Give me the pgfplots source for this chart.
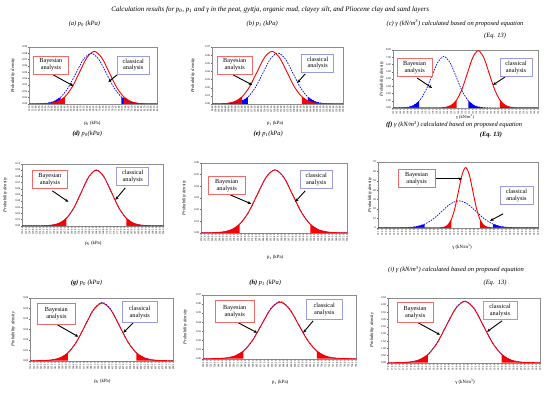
\documentclass[border=0pt]{standalone}
\usepackage{pgfplots}
\pgfplotsset{compat=1.18}
\usepackage{pgfplotstable}
\usepackage{fontspec}
\setmainfont{Liberation Serif}
\usetikzlibrary{arrows.meta}

\pgfplotstableread{
x y
0 0
1.9 0.00003
4.2 0.00018
6.5 0.00092
8.8 0.00365
11.1 0.01123
13.4 0.02695
15.7 0.05034
18.0 0.07325
20.3 0.08300
22.6 0.07325
24.9 0.05034
27.2 0.02695
29.5 0.01123
31.8 0.00365
34.1 0.00092
36.4 0.00018
38.7 0.00003
40 0
}\aR
\pgfplotstableread{
x y
0 0
0.3 0.00003
2.68 0.00018
5.05 0.00089
7.43 0.00352
9.8 0.01083
12.18 0.02597
14.55 0.04852
16.93 0.07060
19.3 0.08000
21.68 0.07060
24.05 0.04852
26.43 0.02597
28.8 0.01083
31.18 0.00352
33.55 0.00089
35.93 0.00018
38.3 0.00003
40 0
}\aB
\pgfplotstableread{
x y
0 0.00002
2.24 0.00014
4.52 0.00072
6.81 0.00284
9.1 0.00874
11.39 0.02097
13.68 0.03918
15.96 0.05701
18.25 0.06460
20.54 0.05701
22.83 0.03918
25.11 0.02097
27.4 0.00874
29.69 0.00284
31.98 0.00072
34.26 0.00014
36.55 0.00002
40 0
}\bR
\pgfplotstableread{
x y
0 0
1.75 0.00002
4.04 0.00014
6.33 0.00070
8.61 0.00275
10.9 0.00847
13.19 0.02032
15.48 0.03797
17.76 0.05525
20.05 0.06260
22.34 0.05525
24.63 0.03797
26.91 0.02032
29.2 0.00847
31.49 0.00275
33.78 0.00070
36.06 0.00014
38.35 0.00002
40 0
}\bB
\pgfplotstableread{
x y
0 0
0.4 0.0024
2.1 0.0155
3.8 0.0789
5.5 0.3120
7.2 0.9610
8.9 2.3050
10.6 4.3060
12.3 6.2660
14.0 7.1000
15.7 6.2660
17.4 4.3060
19.1 2.3050
20.8 0.9610
22.5 0.3120
24.2 0.0789
25.9 0.0155
27.6 0.0024
30 0
40 0
}\cB
\pgfplotstableread{
x y
0 0
10 0
11.5 0.0027
13 0.0173
14.5 0.0878
16 0.3471
17.5 1.0692
19 2.5647
20.5 4.7916
22 6.9718
23.5 7.9000
25 6.9718
26.5 4.7916
28 2.5647
29.5 1.0692
31 0.3471
32.5 0.0878
34 0.0173
35.5 0.0027
37 0
40 0
}\cR
\pgfplotstableread{
x y
0 0
4.0 0.00003
6.13 0.00020
8.25 0.00100
10.38 0.00395
12.5 0.01218
14.63 0.02922
16.75 0.05459
18.88 0.07943
21.0 0.09000
23.13 0.07943
25.25 0.05459
27.38 0.02922
29.5 0.01218
31.63 0.00395
33.75 0.00100
35.88 0.00020
38.0 0.00003
40 0
}\dR
\pgfplotstableread{
x y
0 0
0.8 0.00002
3.23 0.00012
5.65 0.00060
8.08 0.00237
10.5 0.00731
12.93 0.01753
15.35 0.03275
17.78 0.04766
20.2 0.05400
22.63 0.04766
25.05 0.03275
27.48 0.01753
29.9 0.00731
32.33 0.00237
34.75 0.00060
37.18 0.00012
39.6 0.00002
40 0
}\eR
\pgfplotstableread{
x y
0 0
13 0
14.7 0.022
15.6 0.140
16.5 0.711
17.4 2.812
18.3 8.662
19.2 20.778
20.1 38.818
21.0 56.480
21.9 64.000
22.8 56.480
23.7 38.818
24.6 20.778
25.5 8.662
26.4 2.812
27.3 0.711
28.2 0.140
29.1 0.022
31 0
40 0
}\fR
\pgfplotstableread{
x y
0 0
3.0 0.0098
5.15 0.0629
7.3 0.3189
9.45 1.2611
11.6 3.8843
13.75 9.3175
15.9 17.4074
18.05 25.3278
20.2 28.7000
22.35 25.3278
24.5 17.4074
26.65 9.3175
28.8 3.8843
30.95 1.2611
33.1 0.3189
35.25 0.0629
37.4 0.0098
40 0
}\fB
\pgfplotstableread{
x r b
0 0 0
0.9 0.00002 0.00002
3.3 0.00012 0.00012
5.7 0.00061 0.00062
8.1 0.00242 0.00244
10.5 0.00744 0.00753
12.9 0.01786 0.01805
15.3 0.03336 0.03372
17.7 0.04854 0.04907
20.1 0.05500 0.05560
22.5 0.04854 0.04907
24.9 0.03336 0.03372
27.3 0.01786 0.01805
29.7 0.00744 0.00753
32.1 0.00242 0.00244
34.5 0.00061 0.00062
36.9 0.00012 0.00012
39.3 0.00002 0.00002
40 0 0
}\gT
\pgfplotstableread{
x r b
0 0 0
0.9 0.00002 0.00002
3.3 0.00014 0.00014
5.7 0.00069 0.00070
8.1 0.00272 0.00276
10.5 0.00839 0.00849
12.9 0.02013 0.02036
15.3 0.03761 0.03803
17.7 0.05472 0.05533
20.1 0.06200 0.06270
22.5 0.05472 0.05533
24.9 0.03761 0.03803
27.3 0.02013 0.02036
29.7 0.00839 0.00849
32.1 0.00272 0.00276
34.5 0.00069 0.00070
36.9 0.00014 0.00014
39.3 0.00002 0.00002
40 0 0
}\hT
\pgfplotstableread{
x r b
0 0 0
0.8 0.0015 0.0015
3.23 0.0093 0.0094
5.65 0.0472 0.0476
8.08 0.1867 0.1881
10.5 0.5752 0.5793
12.93 1.3798 1.3895
15.35 2.5778 2.5959
17.78 3.7506 3.7771
20.2 4.2500 4.2800
22.63 3.7506 3.7771
25.05 2.5778 2.5959
27.48 1.3798 1.3895
29.9 0.5752 0.5793
32.33 0.1867 0.1881
34.75 0.0472 0.0476
37.18 0.0093 0.0094
39.6 0.0015 0.0015
40 0 0
}\iT

\definecolor{boxred}{HTML}{F06A6A}
\definecolor{boxblue}{HTML}{9A9AE0}

\pgfplotsset{
  panel/.style={
    scale only axis, anchor=south west,
    xmin=0, xmax=40, ymin=0,
    xtick={0,1,...,40},
    axis line style={black!45, line width=0.4pt},
    tick style={black!60, line width=0.3pt},
    major tick length=1.2bp,
    tick align=outside,
    xtick pos=bottom, ytick pos=left,
    scaled y ticks=false,
    /pgf/number format/assume math mode=true,
    xticklabel style={rotate=90, anchor=east, font=\fontsize{2.6}{3}\selectfont, inner sep=0.4bp},
    yticklabel style={font=\fontsize{2.8}{3}\selectfont, inner sep=0.8bp,
       /pgf/number format/.cd, fixed, fixed zerofill, precision=2},
  },
  rline/.style={red, line width=0.9bp, smooth},
  bline/.style={blue, line width=0.7bp, smooth, dash pattern=on 1.6bp off 1.1bp},
  rfill/.style={fill=red, draw=none, smooth},
  bfill/.style={fill=blue, draw=none, smooth},
}

\tikzset{
  annB/.style={draw=boxred, line width=0.8bp, fill=white, align=center,
     font=\fontsize{6.3}{6.8}\selectfont, inner sep=1bp, minimum width=35bp, minimum height=18bp},
  annC/.style={draw=boxblue, line width=0.8bp, fill=white, align=center,
     font=\fontsize{6.3}{6.8}\selectfont, inner sep=1bp, minimum width=32bp, minimum height=18bp},
  annArr/.style={-{Stealth[length=3.5bp,width=3bp]}, line width=0.9bp, black},
  capTxt/.style={font=\fontsize{6.5}{7}\selectfont\itshape},
  xLab/.style={font=\fontsize{4.8}{5}\selectfont},
  yLab/.style={rotate=90, font=\fontsize{4.6}{5}\selectfont\itshape},
}

\begin{document}
\begin{tikzpicture}
\begin{scope}[x=1bp,y=-1bp]
\useasboundingbox (0,0) rectangle (550,393);
\end{scope}

% (a)
\begin{axis}[panel, at={(29bp,-104bp)}, width=128bp, height=57bp, ymax=0.09, ytick distance=0.01,
  xticklabel={\pgfmathparse{52.1+0.85*\tick}\pgfmathprintnumber[fixed,fixed zerofill,precision=2]{\pgfmathresult}}]
\addplot[bfill, restrict x to domain=0:9.81] table{\aB} \closedcycle;
\addplot[bfill, restrict x to domain=28.79:40] table{\aB} \closedcycle;
\addplot[rfill, restrict x to domain=0:11.11] table{\aR} \closedcycle;
\addplot[rfill, restrict x to domain=29.49:40] table{\aR} \closedcycle;
\addplot[bline] table{\aB};
\addplot[rline] table{\aR};
\end{axis}

% (b)
\begin{axis}[panel, at={(212bp,-104bp)}, width=131bp, height=57bp, ymax=0.07, ytick distance=0.01,
  xticklabel={\pgfmathparse{98.4+1.6*\tick}\pgfmathprintnumber[fixed,fixed zerofill,precision=2]{\pgfmathresult}}]
\addplot[bfill, restrict x to domain=0:10.91] table{\bB} \closedcycle;
\addplot[bfill, restrict x to domain=29.19:40] table{\bB} \closedcycle;
\addplot[rfill, restrict x to domain=0:9.11] table{\bR} \closedcycle;
\addplot[rfill, restrict x to domain=27.39:40] table{\bR} \closedcycle;
\addplot[bline] table{\bB};
\addplot[rline] table{\bR};
\end{axis}

% (c)
\begin{axis}[panel, at={(393bp,-108bp)}, width=145bp, height=58bp, ymax=8, ytick distance=1,
  xticklabel style={font=\fontsize{2.3}{2.6}\selectfont},
  xticklabel={\pgfmathparse{10.2+0.15*\tick}\pgfmathprintnumber[fixed,fixed zerofill,precision=2]{\pgfmathresult}}]
\addplot[bfill, restrict x to domain=0:7.21] table{\cB} \closedcycle;
\addplot[bfill, restrict x to domain=20.79:40] table{\cB} \closedcycle;
\addplot[rfill, restrict x to domain=0:17.51] table{\cR} \closedcycle;
\addplot[rfill, restrict x to domain=29.49:40] table{\cR} \closedcycle;
\addplot[bline] table{\cB};
\addplot[rline] table{\cR};
\end{axis}

% (d)
\begin{axis}[panel, at={(22bp,-226bp)}, width=141bp, height=62bp, ymax=0.10, ytick distance=0.01,
  xticklabel={\pgfmathparse{120.5+2.1*\tick}\pgfmathprintnumber[fixed,fixed zerofill,precision=2]{\pgfmathresult}}]
\addplot[rfill, restrict x to domain=0:12.51] table{\dR} \closedcycle;
\addplot[rfill, restrict x to domain=29.49:40] table{\dR} \closedcycle;
\addplot[bline] table{\dR};
\addplot[rline] table{\dR};
\end{axis}

% (e)
\begin{axis}[panel, at={(201bp,-233bp)}, width=146bp, height=70bp, ymax=0.06, ytick distance=0.01,
  xticklabel={\pgfmathparse{230.4+3.2*\tick}\pgfmathprintnumber[fixed,fixed zerofill,precision=2]{\pgfmathresult}}]
\addplot[rfill, restrict x to domain=0:10.51] table{\eR} \closedcycle;
\addplot[rfill, restrict x to domain=29.89:40] table{\eR} \closedcycle;
\addplot[bline] table{\eR};
\addplot[rline] table{\eR};
\end{axis}

% (f)
\begin{axis}[panel, at={(378bp,-228bp)}, width=160bp, height=66bp, ymax=70, ytick distance=10,
  yticklabel style={/pgf/number format/precision=0},
  xticklabel={\pgfmathparse{14.1+0.12*\tick}\pgfmathprintnumber[fixed,fixed zerofill,precision=2]{\pgfmathresult}}]
\addplot[bfill, restrict x to domain=0:11.61] table{\fB} \closedcycle;
\addplot[bfill, restrict x to domain=28.79:40] table{\fB} \closedcycle;
\addplot[rfill, restrict x to domain=0:18.31] table{\fR} \closedcycle;
\addplot[rfill, restrict x to domain=25.49:40] table{\fR} \closedcycle;
\addplot[bline] table{\fB};
\addplot[rline] table{\fR};
\end{axis}

% (g)
\begin{axis}[panel, at={(30bp,-361bp)}, width=143bp, height=63bp, ymax=0.06, ytick distance=0.01,
  xticklabel={\pgfmathparse{310.2+4.5*\tick}\pgfmathprintnumber[fixed,fixed zerofill,precision=2]{\pgfmathresult}}]
\addplot[rfill, restrict x to domain=0:10.51] table[y=r]{\gT} \closedcycle;
\addplot[rfill, restrict x to domain=29.69:40] table[y=r]{\gT} \closedcycle;
\addplot[bline] table[y=b]{\gT};
\addplot[rline] table[y=r]{\gT};
\end{axis}

% (h)
\begin{axis}[panel, at={(203bp,-359bp)}, width=153bp, height=64bp, ymax=0.07, ytick distance=0.01,
  xticklabel={\pgfmathparse{520.3+6.1*\tick}\pgfmathprintnumber[fixed,fixed zerofill,precision=2]{\pgfmathresult}}]
\addplot[rfill, restrict x to domain=0:10.51] table[y=r]{\hT} \closedcycle;
\addplot[rfill, restrict x to domain=29.69:40] table[y=r]{\hT} \closedcycle;
\addplot[bline] table[y=b]{\hT};
\addplot[rline] table[y=r]{\hT};
\end{axis}

% (i)
\begin{axis}[panel, at={(388bp,-363bp)}, width=152bp, height=65bp, ymax=4.5, ytick distance=0.5,
  xticklabel={\pgfmathparse{17.4+0.08*\tick}\pgfmathprintnumber[fixed,fixed zerofill,precision=2]{\pgfmathresult}}]
\addplot[rfill, restrict x to domain=0:10.51] table[y=r]{\iT} \closedcycle;
\addplot[rfill, restrict x to domain=29.89:40] table[y=r]{\iT} \closedcycle;
\addplot[bline] table[y=b]{\iT};
\addplot[rline] table[y=r]{\iT};
\end{axis}

\begin{scope}[x=1bp,y=-1bp]
% titles
\node[capTxt, font=\fontsize{7}{8}\selectfont\itshape] at (270,10) {Calculation results for p\textsubscript{0}, p\textsubscript{1} and γ in the peat, gyttja, organic mud, clayey silt, and Pliocene clay and sand layers};
\node[capTxt] at (84,24) {(a) p\textsubscript{0} (kPa)};
\node[capTxt] at (262,24) {(b) p\textsubscript{1} (kPa)};
\node[capTxt] at (455,23) {(c) γ (kN/m\textsuperscript{3}) calculated based on proposed equation};
\node[capTxt] at (495,36) {(Eq. 13)};
\node[capTxt] at (87,134) {\textbf{(d)} p\textsubscript{0}(kPa)};
\node[capTxt] at (268,134) {\textbf{(e)} p\textsubscript{1}(kPa)};
\node[capTxt] at (454,125) {\textbf{(f)} γ (kN/m\textsuperscript{3}) calculated based on proposed equation};
\node[capTxt] at (491,135) {\textbf{(Eq. 13)}};
\node[capTxt] at (86,283) {\textbf{(g)} p\textsubscript{0} (kPa)};
\node[capTxt] at (265,283) {\textbf{(h)} p\textsubscript{1} (kPa)};
\node[capTxt] at (456,270) {(i) γ (kN/m\textsuperscript{3}) calculated based on proposed equation};
\node[capTxt] at (495,283) {(Eq.\ \ 13)};
% x labels
\node[xLab] at (92,123) {p\textsubscript{0} (kPa)};
\node[xLab] at (275,123) {p\textsubscript{1} (kPa)};
\node[xLab, font=\fontsize{4.4}{4.6}\selectfont] at (465,117) {γ (kN/m\textsuperscript{3})};
\node[xLab] at (93,244) {p\textsubscript{0} (kPa)};
\node[xLab] at (275,258) {p\textsubscript{1} (kPa)};
\node[xLab] at (462,247) {γ (kN/m\textsuperscript{3})};
\node[xLab] at (102,382) {p\textsubscript{0} (kPa)};
\node[xLab] at (280,383) {p\textsubscript{1} (kPa)};
\node[xLab] at (465,382) {γ (kN/m\textsuperscript{3})};
% y labels
\node[yLab] at (12.7,75.5) {Probability density};
\node[yLab] at (192.7,75.5) {Probability density};
\node[yLab] at (381.7,79) {Probability density};
\node[yLab] at (5,195) {Probability density};
\node[yLab] at (184,198) {Probability density};
\node[yLab] at (370,195) {Probability density};
\node[yLab] at (13,329.5) {Probability density};
\node[yLab] at (185,327) {Probability density};
\node[yLab] at (372,330.5) {Probability density};
% annotations (a)
\draw[annArr] (53,75) -- (73,86);
\draw[annArr] (118,74) -- (108,82);
\node[annB] at (50.5,65) {Bayesian\\analysis};
\node[annC] at (133,65) {classical\\analysis};
% (b)
\draw[annArr] (233,75) -- (252,85);
\draw[annArr] (305,74) -- (297,83);
\node[annB] at (234.5,65) {Bayesian\\analysis};
\node[annC] at (317.5,63) {classical\\analysis};
% (c)
\draw[annArr] (417,78) -- (432,88);
\draw[annArr] (505,77) -- (493,85);
\node[annB] at (414.5,67.5) {Bayesian\\analysis};
\node[annC] at (516,67.5) {classical\\analysis};
% (d)
\draw[annArr] (52,191) -- (68,202);
\draw[annArr] (125,188) -- (115,200);
\node[annB] at (49.5,180) {Bayesian\\analysis};
\node[annC] at (132.5,177) {classical\\analysis};
% (e)
\draw[annArr] (230,195) -- (251,204);
\draw[annArr] (305,191) -- (295,202);
\node[annB, minimum width=37bp] at (226.5,185.5) {Bayesian\\analysis};
\node[annC] at (316,180) {classical\\analysis};
% (f)
\draw[annArr] (435,179) -- (462,179);
\draw[annArr] (503,214) -- (490,221);
\node[annB, minimum width=37bp] at (416.5,179) {Bayesian\\analysis};
\node[annC, minimum width=33bp] at (516.5,196) {classical\\analysis};
% (g)
\draw[annArr] (57,325) -- (78,337);
\draw[annArr] (133,323) -- (123,333);
\node[annB, minimum width=38bp, minimum height=21bp] at (56,314) {Bayesian\\analysis};
\node[annC, minimum width=35bp, minimum height=21bp] at (139.5,312.5) {classical\\analysis};
% (h)
\draw[annArr] (238,323) -- (257,333);
\draw[annArr] (313,321) -- (303,333);
\node[annB, minimum width=39bp, minimum height=22bp] at (234.5,311.5) {Bayesian\\analysis};
\node[annC, minimum width=36bp, minimum height=20bp] at (324,310) {classical\\analysis};
% (i)
\draw[annArr] (418,323) -- (440,335);
\draw[annArr] (502,321) -- (487,332);
\node[annB, minimum width=36bp, minimum height=20bp] at (415,313) {Bayesian\\analysis};
\node[annC, minimum width=34bp, minimum height=18bp] at (500,311) {classical\\analysis};
\end{scope}
\end{tikzpicture}
\end{document}
